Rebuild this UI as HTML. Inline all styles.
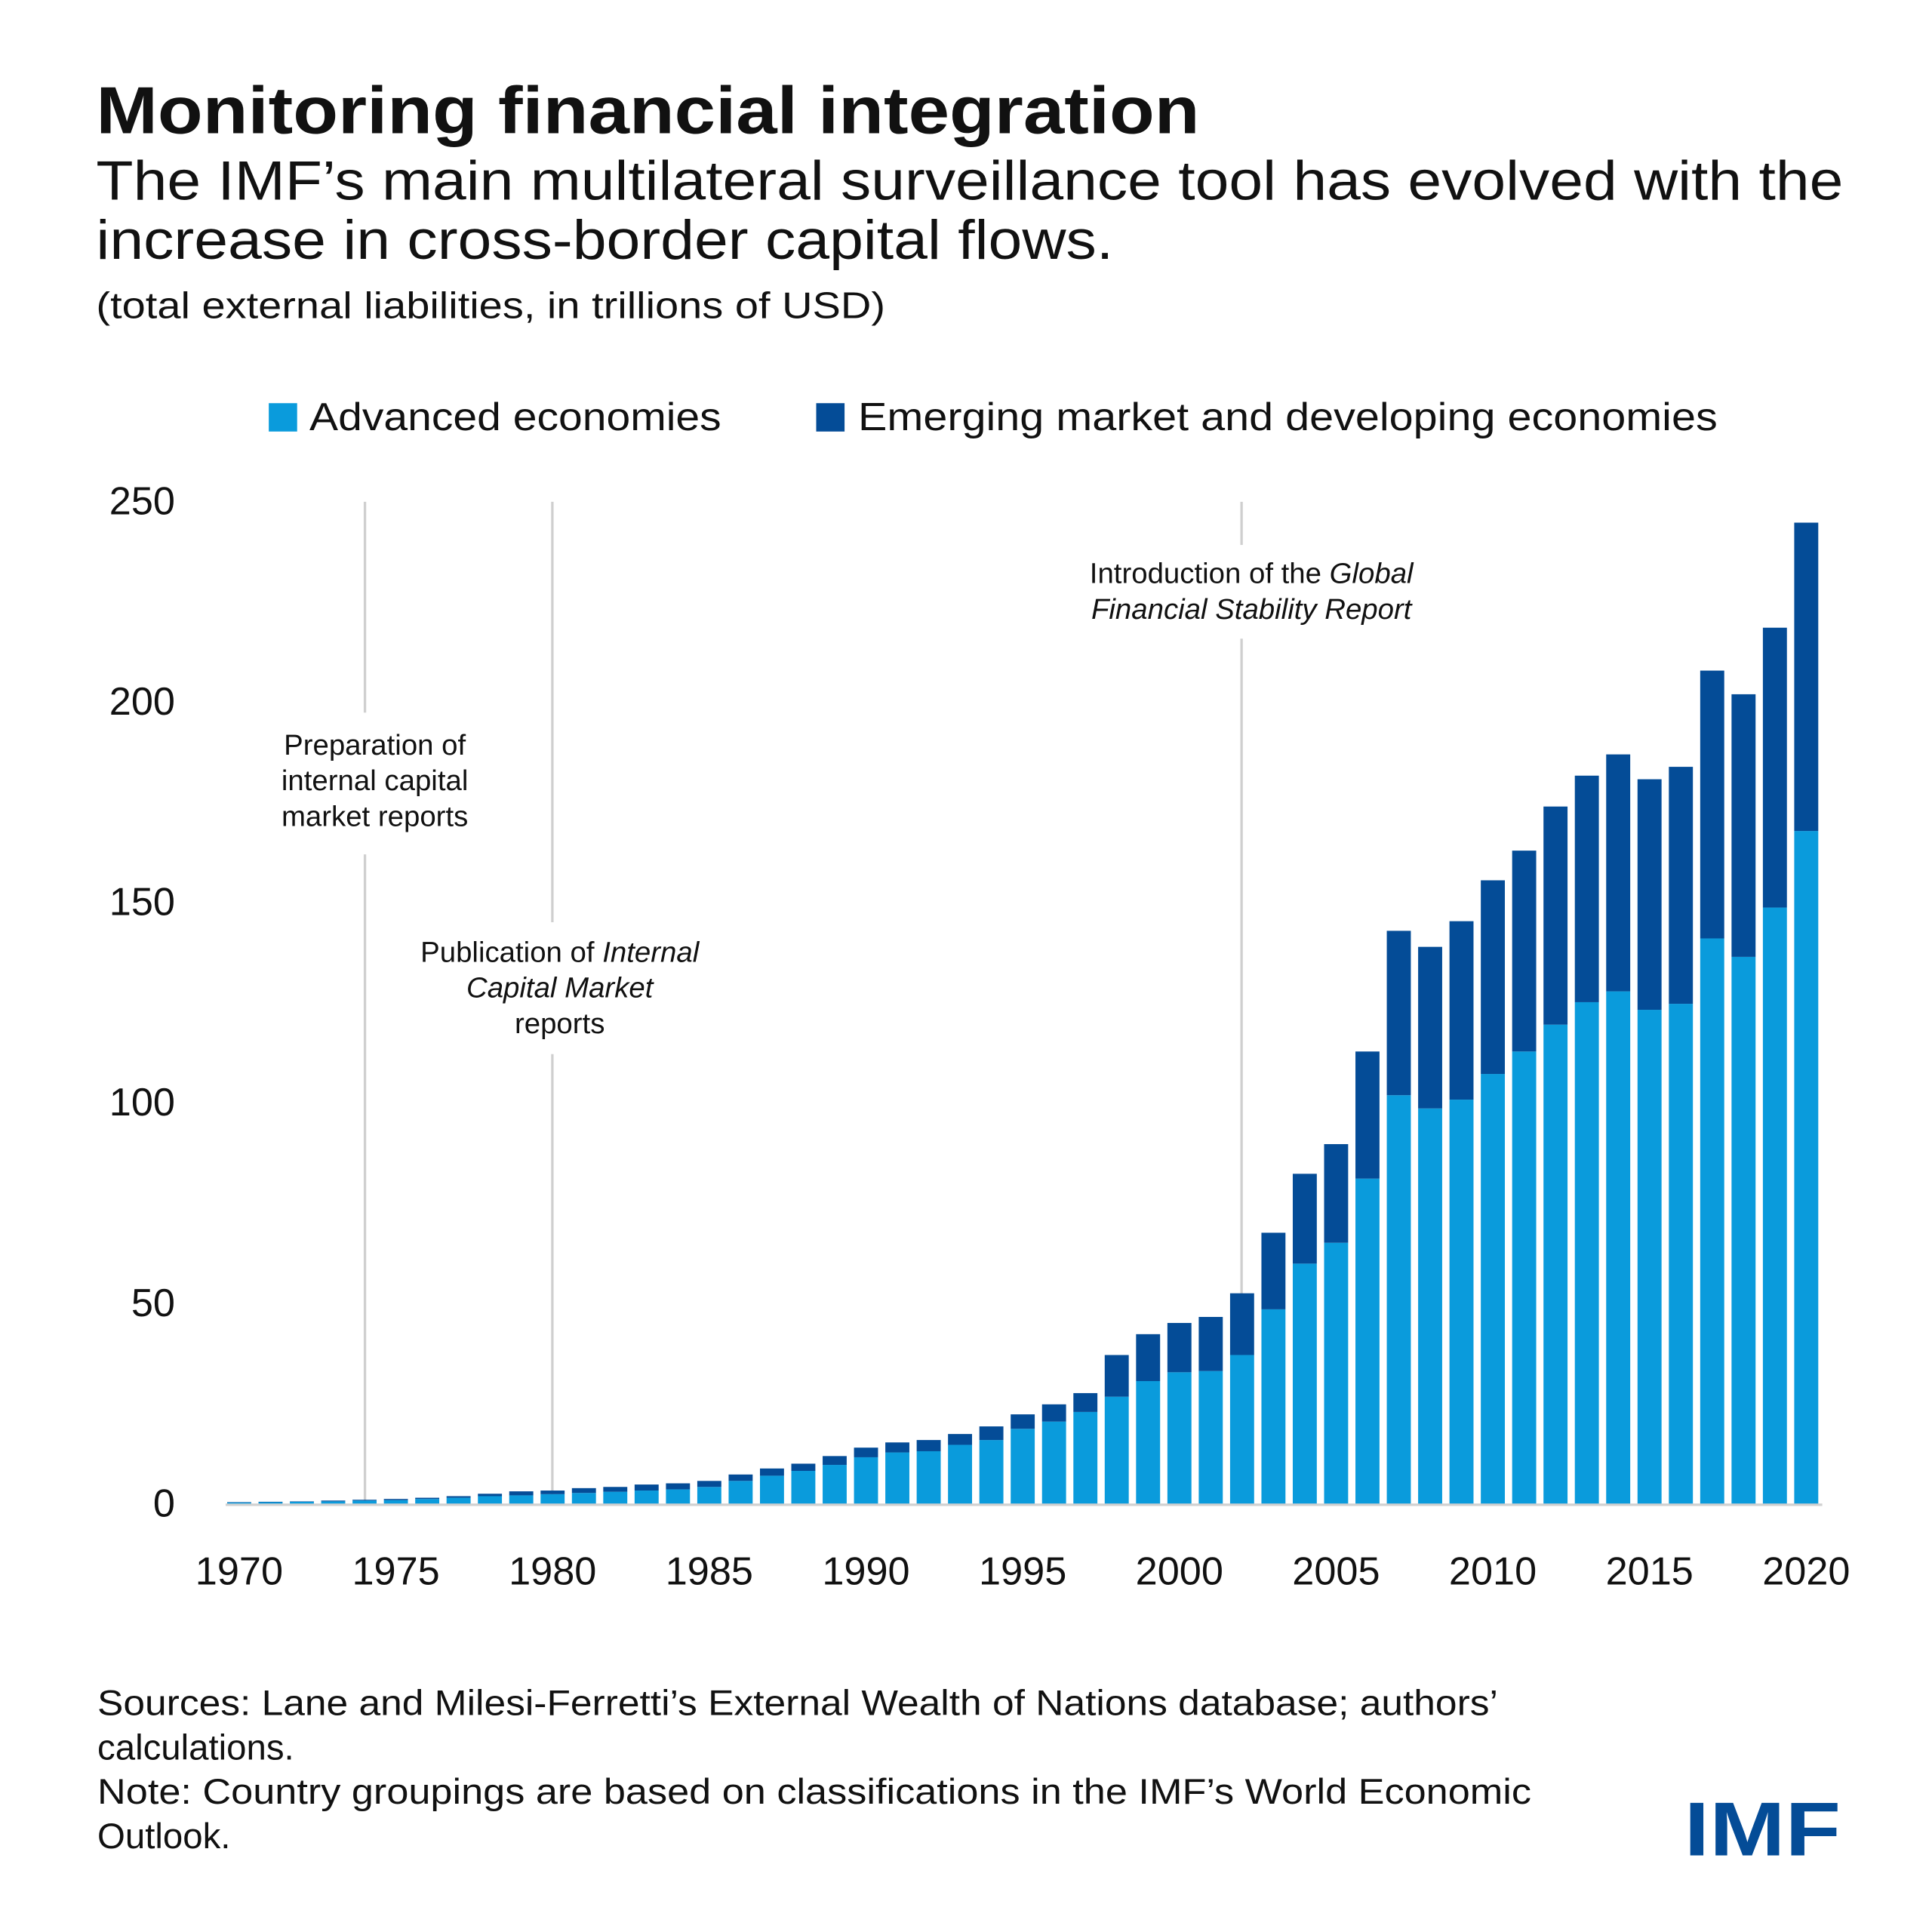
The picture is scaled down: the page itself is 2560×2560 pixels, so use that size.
<!DOCTYPE html>
<html><head><meta charset="utf-8"><style>
html,body{margin:0;padding:0;background:#fff}
svg{display:block}
text{font-family:"Liberation Sans",sans-serif;fill:#111}
</style></head><body>
<svg id="chart" width="2560" height="2560" viewBox="0 0 1567 1567" xmlns="http://www.w3.org/2000/svg">
<rect width="1567" height="1567" fill="#fff"/>
<text x="78" y="108" font-size="54" font-weight="bold" textLength="895" lengthAdjust="spacingAndGlyphs">Monitoring financial integration</text>
<text x="78" y="162" font-size="45" textLength="1417" lengthAdjust="spacingAndGlyphs">The IMF’s main multilateral surveillance tool has evolved with the</text>
<text x="78" y="210" font-size="45" textLength="825" lengthAdjust="spacingAndGlyphs">increase in cross-border capital flows.</text>
<text x="78" y="258" font-size="30" textLength="640" lengthAdjust="spacingAndGlyphs">(total external liabilities, in trillions of USD)</text>
<g>
<rect x="218" y="327" width="23" height="23" fill="#0A9BDC"/>
<text x="251" y="349" font-size="32" textLength="334" lengthAdjust="spacingAndGlyphs">Advanced economies</text>
<rect x="662" y="327" width="23" height="23" fill="#044C97"/>
<text x="696" y="349" font-size="32" textLength="697" lengthAdjust="spacingAndGlyphs">Emerging market and developing economies</text>
</g>
<g id="annot">
<line x1="296" y1="407" x2="296" y2="578" stroke="#cfcfcf" stroke-width="2"/>
<line x1="296" y1="693" x2="296" y2="1220" stroke="#cfcfcf" stroke-width="2"/>
<line x1="448" y1="407" x2="448" y2="748" stroke="#cfcfcf" stroke-width="2"/>
<line x1="448" y1="855" x2="448" y2="1220" stroke="#cfcfcf" stroke-width="2"/>
<line x1="1007" y1="407" x2="1007" y2="442" stroke="#cfcfcf" stroke-width="2"/>
<line x1="1007" y1="518" x2="1007" y2="1220" stroke="#cfcfcf" stroke-width="2"/>
<g font-size="23.5" text-anchor="middle">
<text x="304" y="612">Preparation of</text><text x="304" y="641">internal capital</text><text x="304" y="670">market reports</text></g>
<g font-size="23.5" text-anchor="middle">
<text x="454" y="780">Publication of <tspan font-style="italic">Internal</tspan></text><text x="454" y="809" font-style="italic">Capital Market</text><text x="454" y="838">reports</text></g>
<g font-size="23.5" text-anchor="middle">
<text x="1015" y="473">Introduction of the <tspan font-style="italic">Global</tspan></text><text x="1015" y="502" font-style="italic">Financial Stability Report</text></g>
</g>
<g id="bars"></g>
<line x1="183" y1="1220.5" x2="1478" y2="1220.5" stroke="#d0d0d0" stroke-width="2"/>
<g id="yticks"></g>
<g id="xticks"></g>
<g font-size="29">
<text x="79" y="1391" textLength="1136" lengthAdjust="spacingAndGlyphs">Sources: Lane and Milesi-Ferretti’s External Wealth of Nations database; authors’</text>
<text x="79" y="1427">calculations.</text>
<text x="79" y="1463" textLength="1163" lengthAdjust="spacingAndGlyphs">Note: Country groupings are based on classifications in the IMF’s World Economic</text>
<text x="79" y="1499">Outlook.</text>
</g>
<text x="1366" y="1505" font-size="62" font-weight="bold" fill="#044C97" style="fill:#044C97" textLength="127" lengthAdjust="spacingAndGlyphs">IMF</text>
</svg>
<script>
const years=[1970,1971,1972,1973,1974,1975,1976,1977,1978,1979,1980,1981,1982,1983,1984,1985,1986,1987,1988,1989,1990,1991,1992,1993,1994,1995,1996,1997,1998,1999,2000,2001,2002,2003,2004,2005,2006,2007,2008,2009,2010,2011,2012,2013,2014,2015,2016,2017,2018,2019,2020];
const advanced=[0.4,0.5,0.6,0.7,0.9,1.0,1.3,1.6,2.0,2.2,2.5,2.8,3.1,3.4,3.7,4.3,5.8,7.1,8.3,9.8,11.7,12.9,13.2,14.8,16.0,18.8,20.6,23.0,26.8,30.7,32.9,33.2,37.2,48.6,60.0,65.2,81.2,102.0,98.7,100.9,107.3,112.9,119.6,125.2,127.9,123.3,124.8,141.1,136.5,148.8,167.9];
const emerging=[0.1,0.1,0.1,0.2,0.2,0.3,0.3,0.4,0.6,1.0,0.9,1.2,1.2,1.5,1.5,1.5,1.6,1.8,1.8,2.2,2.4,2.5,2.8,2.7,3.4,3.6,4.3,4.7,10.4,11.7,12.3,13.5,15.4,19.1,22.4,24.6,31.7,41.0,40.3,44.5,48.3,50.1,54.4,56.5,59.1,57.5,59.1,66.8,65.5,69.8,76.9];
const yTicks=[0,50,100,150,200,250];
const xTickYears=[1970,1975,1980,1985,1990,1995,2000,2005,2010,2015,2020];
const NS="http://www.w3.org/2000/svg";
const x=yr=>194+(yr-1970)*25.42;
const y=v=>1220-v*3.252;
const bw=19.5;
const bars=document.getElementById('bars');
years.forEach((yr,i)=>{
  const a=document.createElementNS(NS,'rect');
  
  
  a.setAttribute('x',x(yr)-bw/2);a.setAttribute('width',bw);
  a.setAttribute('y',y(advanced[i]));a.setAttribute('height',y(0)-y(advanced[i]));
  a.setAttribute('fill','#0A9BDC');bars.appendChild(a);
  const e=document.createElementNS(NS,'rect');
  
  
  const t=advanced[i]+emerging[i];
  e.setAttribute('x',x(yr)-bw/2);e.setAttribute('width',bw);
  e.setAttribute('y',y(t));e.setAttribute('height',y(advanced[i])-y(t));
  e.setAttribute('fill','#044C97');bars.appendChild(e);
});
const yt=document.getElementById('yticks');
yTicks.forEach(v=>{
  const t=document.createElementNS(NS,'text');
  
  
  t.setAttribute('x',142);t.setAttribute('y',y(v)+10);
  t.setAttribute('text-anchor','end');t.setAttribute('font-size','32');
  t.textContent=v;yt.appendChild(t);
});
const xt=document.getElementById('xticks');
xTickYears.forEach(v=>{
  const t=document.createElementNS(NS,'text');
  
  
  t.setAttribute('x',x(v));t.setAttribute('y',1285);
  t.setAttribute('text-anchor','middle');t.setAttribute('font-size','32');
  t.textContent=v;xt.appendChild(t);
});
</script>
</body></html>
